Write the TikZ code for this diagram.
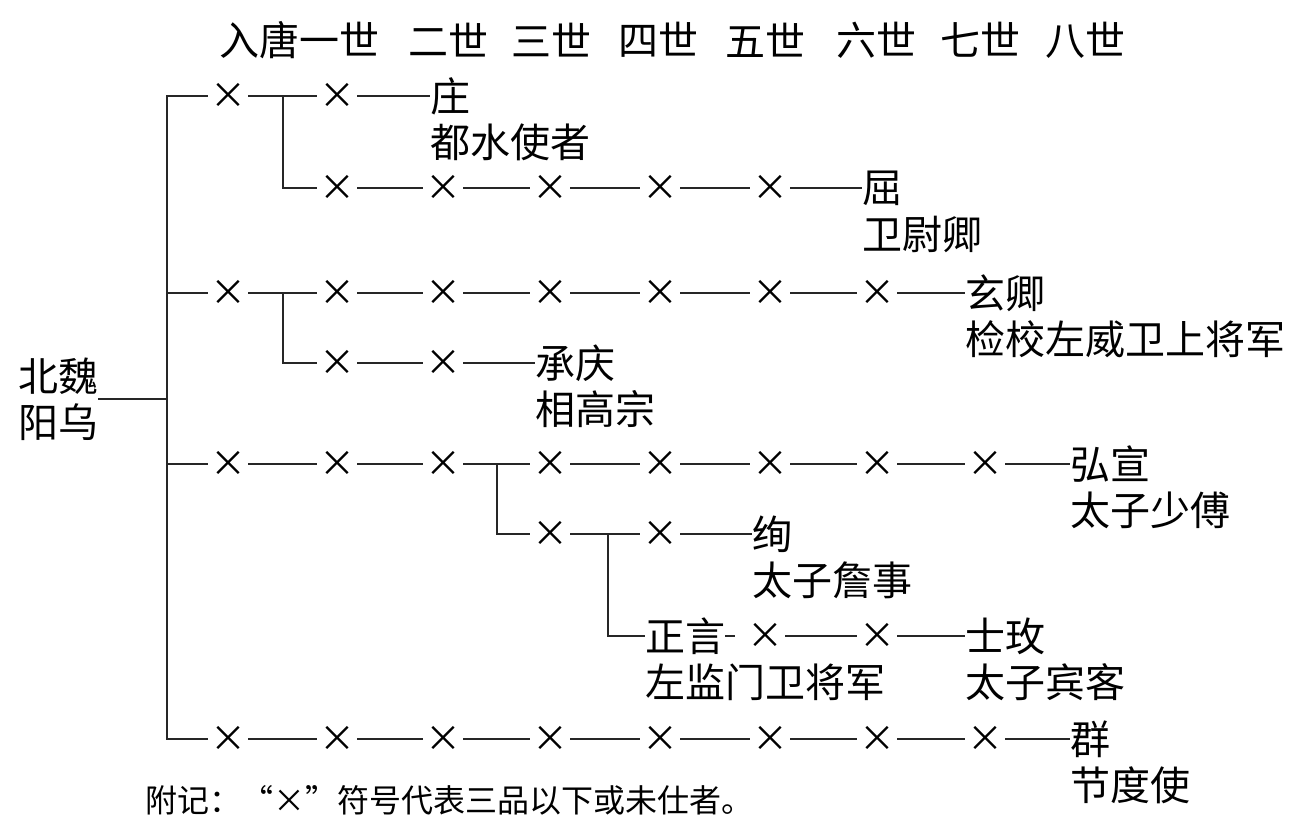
\documentclass[tikz,border=0pt]{standalone}
\usepackage{fontspec}
\setmainfont{Noto Sans CJK SC}
\newfontfamily\cjkf{Noto Sans CJK SC}
\begin{document}
\begin{tikzpicture}[x=1pt,y=-1pt,
  conn/.style={line width=2pt, black!85},
  X/.style={inner sep=0pt, minimum width=40pt, font=\cjkf\fontsize{36}{42}\selectfont},
  nm/.style={anchor=west, inner sep=0pt, font=\cjkf\fontsize{40}{46}\selectfont},
  hd/.style={inner sep=0pt, font=\cjkf\fontsize{40}{46}\selectfont},
  note/.style={anchor=west, inner sep=0pt, font=\cjkf\fontsize{32}{36}\selectfont}]
\useasboundingbox (0,0) rectangle (1305,831);
% header
\node[hd] (h1) at (299,40) {入唐一世};
\node[hd] (h2) at (448,40) {二世};
\node[hd] (h3) at (551,40) {三世};
\node[hd] (h4) at (658,40) {四世};
\node[hd] (h5) at (765,40) {五世};
\node[hd] (h6) at (876,40) {六世};
\node[hd] (h7) at (980,40) {七世};
\node[hd] (h8) at (1085,40) {八世};
% root
\node[nm, align=left] (root) at (18,399) {北魏\\阳乌};
\coordinate (trunk) at (167,399);
% row 1
\node[X] (a1) at (228,96) {×};
\node[X] (a2) at (337,96) {×};
\node[nm] (zhuang) at (430,96) {庄};
\node[nm] (zhuangT) at (430,142) {都水使者};
% row 2
\node[X] (b2) at (337,188) {×};
\node[X] (b3) at (443,188) {×};
\node[X] (b4) at (550,188) {×};
\node[X] (b5) at (660,188) {×};
\node[X] (b6) at (770,188) {×};
\node[nm] (qu) at (862,188) {屈};
\node[nm] (quT) at (862,234) {卫尉卿};
% row 3
\node[X] (d1) at (228,293) {×};
\node[X] (d2) at (337,293) {×};
\node[X] (d3) at (443,293) {×};
\node[X] (d4) at (550,293) {×};
\node[X] (d5) at (660,293) {×};
\node[X] (d6) at (770,293) {×};
\node[X] (d7) at (877,293) {×};
\node[nm] (xq) at (965,293) {玄卿};
\node[nm] (xqT) at (965,339) {检校左威卫上将军};
% row 4
\node[X] (e2) at (337,363) {×};
\node[X] (e3) at (443,363) {×};
\node[nm] (cq) at (535,363) {承庆};
\node[nm] (cqT) at (535,409) {相高宗};
% row 5
\node[X] (f1) at (228,464) {×};
\node[X] (f2) at (337,464) {×};
\node[X] (f3) at (443,464) {×};
\node[X] (f4) at (550,464) {×};
\node[X] (f5) at (660,464) {×};
\node[X] (f6) at (770,464) {×};
\node[X] (f7) at (877,464) {×};
\node[X] (f8) at (985,464) {×};
\node[nm] (hx) at (1070,464) {弘宣};
\node[nm] (hxT) at (1070,510) {太子少傅};
% row 6
\node[X] (g4) at (550,534) {×};
\node[X] (g5) at (660,534) {×};
\node[nm] (xun) at (752,534) {绚};
\node[nm] (xunT) at (752,580) {太子詹事};
% row 7
\node[nm] (zy) at (645,636) {正言};
\node[nm] (zyT) at (645,682) {左监门卫将军};
\node[X] (h6x) at (765,636) {×};
\node[X] (h7x) at (877,636) {×};
\node[nm] (sm) at (965,636) {士玫};
\node[nm] (smT) at (965,682) {太子宾客};
% row 8
\node[X] (k1) at (228,739) {×};
\node[X] (k2) at (337,739) {×};
\node[X] (k3) at (443,739) {×};
\node[X] (k4) at (550,739) {×};
\node[X] (k5) at (660,739) {×};
\node[X] (k6) at (770,739) {×};
\node[X] (k7) at (877,739) {×};
\node[X] (k8) at (985,739) {×};
\node[nm] (qun) at (1070,739) {群};
\node[nm] (qunT) at (1070,785) {节度使};
% note
\node[note] (fn) at (145,800) {附记：“×”符号代表三品以下或未仕者。};
% connectors
\draw[conn] (root.east) -- (trunk);
\draw[conn] (a1.west) -- (a1.west -| trunk) -- (k1.west -| trunk) -- (k1.west);
\draw[conn] (d1.west) -- (d1.west -| trunk);
\draw[conn] (f1.west) -- (f1.west -| trunk);
% row1/2
\draw[conn] (a1.east) -- (a2.west);
\draw[conn] (a2.east) -- (zhuang.west);
\coordinate (s1) at (283,96);
\draw[conn] (s1) |- (b2.west);
\draw[conn] (b2.east) -- (b3.west);
\draw[conn] (b3.east) -- (b4.west);
\draw[conn] (b4.east) -- (b5.west);
\draw[conn] (b5.east) -- (b6.west);
\draw[conn] (b6.east) -- (qu.west);
% row3/4
\draw[conn] (d1.east) -- (d2.west);
\draw[conn] (d2.east) -- (d3.west);
\draw[conn] (d3.east) -- (d4.west);
\draw[conn] (d4.east) -- (d5.west);
\draw[conn] (d5.east) -- (d6.west);
\draw[conn] (d6.east) -- (d7.west);
\draw[conn] (d7.east) -- (xq.west);
\coordinate (s3) at (283,293);
\draw[conn] (s3) |- (e2.west);
\draw[conn] (e2.east) -- (e3.west);
\draw[conn] (e3.east) -- (cq.west);
% row5
\draw[conn] (f1.east) -- (f2.west);
\draw[conn] (f2.east) -- (f3.west);
\draw[conn] (f3.east) -- (f4.west);
\draw[conn] (f4.east) -- (f5.west);
\draw[conn] (f5.east) -- (f6.west);
\draw[conn] (f6.east) -- (f7.west);
\draw[conn] (f7.east) -- (f8.west);
\draw[conn] (f8.east) -- (hx.west);
\coordinate (s5) at (497,464);
\draw[conn] (s5) |- (g4.west);
% row6
\draw[conn] (g4.east) -- (g5.west);
\draw[conn] (g5.east) -- (xun.west);
\coordinate (s6) at (608,534);
\draw[conn] (s6) |- (zy.west);
% row7
\draw[conn] (zy.east) -- ([xshift=-10pt]h6x.west);
\draw[conn] (h6x.east) -- (h7x.west);
\draw[conn] (h7x.east) -- (sm.west);
% row8
\draw[conn] (k1.east) -- (k2.west);
\draw[conn] (k2.east) -- (k3.west);
\draw[conn] (k3.east) -- (k4.west);
\draw[conn] (k4.east) -- (k5.west);
\draw[conn] (k5.east) -- (k6.west);
\draw[conn] (k6.east) -- (k7.west);
\draw[conn] (k7.east) -- (k8.west);
\draw[conn] (k8.east) -- (qun.west);
\end{tikzpicture}
\end{document}
